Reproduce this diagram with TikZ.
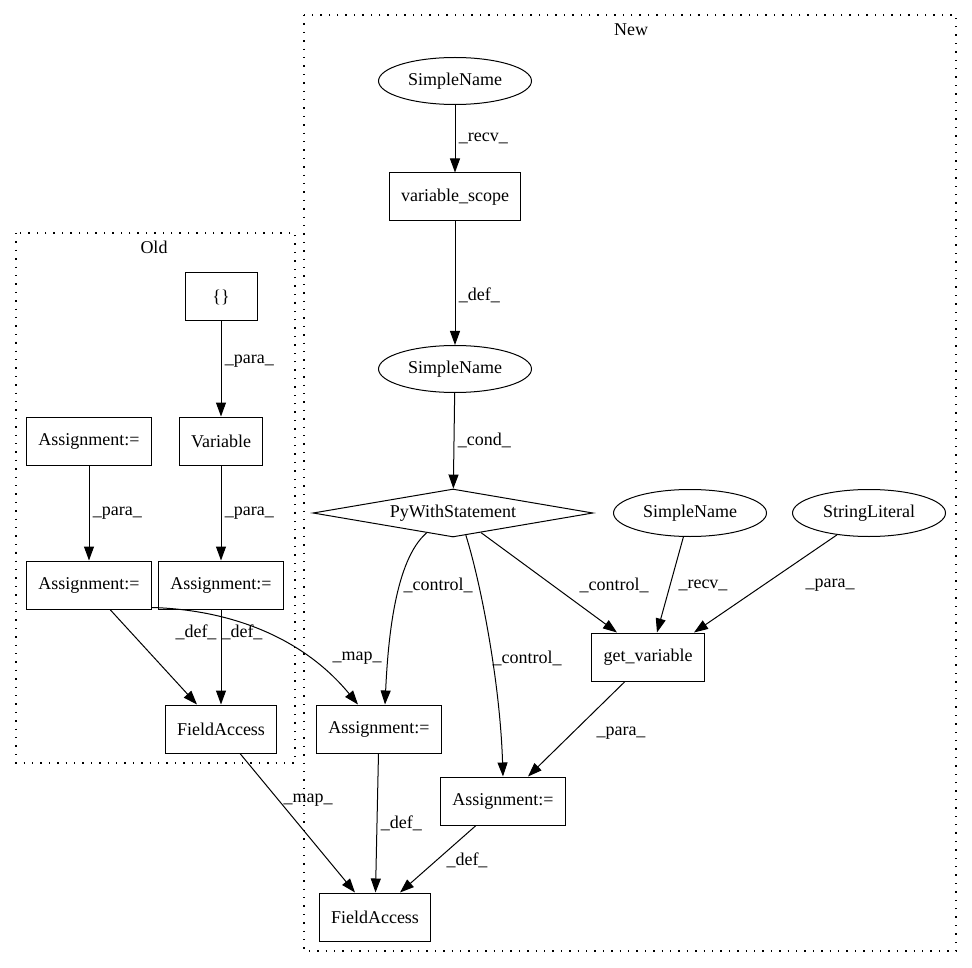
\documentclass[tikz,border=0pt]{standalone}
\usepackage{fontspec}
\setmainfont{Liberation Serif}
\usetikzlibrary{shapes.geometric,arrows.meta}

\tikzset{
  box/.style={draw, rectangle, minimum width=72pt, minimum height=48pt, inner xsep=12pt},
  ename/.style={draw, ellipse, minimum width=153pt, minimum height=47pt, label=center:#1},
  cond/.style={draw, diamond, aspect=6, inner sep=0pt, minimum width=280pt, minimum height=48pt},
  edge/.style={-{Triangle[length=14pt,width=10pt]}},
  cluster/.style={line width=1.4pt, dash pattern=on 1.4pt off 7pt},
}

\begin{document}
\begin{tikzpicture}[x=1pt, y=-1pt, line width=1pt,
  every node/.style={font=\fontsize{18}{21}\selectfont}]
\useasboundingbox (0,0) rectangle (972,968);

% clusters
\draw[cluster] (16,233) rectangle (295,763);
\node (oldlbl) at (154,247) {Old};
\draw[cluster] (304,15) rectangle (956,951);
\node (newlbl) at (631,30) {New};

% old
\node[box] (braces) at (221,297) {\{\}};
\node[box] (variable) at (221,441) {Variable};
\node[box] (oasgn1) at (89,441) {Assignment:=};
\node[box] (oasgn2) at (89,585) {Assignment:=};
\node[box] (oasgn3) at (221,585) {Assignment:=};
\node[box] (faold) at (221,729) {FieldAccess};

% new
\node[ename=SimpleName] (sn1) at (455,81) {};
\node[box] (vscope) at (455,197) {variable\_scope};
\node[ename=SimpleName] (sn2) at (455,369) {};
\node[cond] (pyws) at (453,513) {PyWithStatement};
\node[ename=SimpleName] (sn3) at (690,513) {};
\node[ename=StringLiteral] (strlit) at (869,513) {};
\node[box] (getvar) at (648,657) {get\_variable};
\node[box] (nasgn1) at (379,729) {Assignment:=};
\node[box] (nasgn2) at (503,801) {Assignment:=};
\node[box] (fanew) at (375,917) {FieldAccess};

% edges old
\draw[edge] (braces) -- node[pos=.42,right]{\_para\_} (variable);
\draw[edge] (oasgn1) -- node[right]{\_para\_} (oasgn2);
\draw[edge] (variable) -- node[right]{\_para\_} (oasgn3);
\draw[edge] ([xshift=21pt]oasgn2.south) -- ([xshift=-24pt]faold.north);
\node at (196,632) {\_def\_};
\draw[edge] (oasgn3) -- (faold);
\node at (242,632) {\_def\_};
\draw[edge] ([yshift=2pt]oasgn2.south east) .. controls (235,610) and (305,640) .. ([xshift=-21pt]nasgn1.north);
\node at (357,658) {\_map\_};
\draw[edge] ([xshift=19pt]faold.south) -- ([xshift=-20pt]fanew.north);
\node at (308,800) {\_map\_};

% edges new
\draw[edge] (sn1) -- node[right]{\_recv\_} (vscope);
\draw[edge] (vscope) -- node[pos=.6,right]{\_def\_} (sn2);
\draw[edge] (sn2) -- node[right]{\_cond\_} (pyws);
\draw[edge] (pyws.217) .. controls (395,560) and (388,640) .. ([xshift=6pt]nasgn1.north);
\node at (438,585) {\_control\_};
\draw[edge] (pyws.-60) .. controls (480,580) and (500,680) .. (nasgn2.north);
\node at (527,658) {\_control\_};
\draw[edge] (pyws.-35) -- ([xshift=-31pt]getvar.north);
\node at (614,585) {\_control\_};
\draw[edge] (sn3) -- ([xshift=9pt]getvar.north);
\node at (703,585) {\_recv\_};
\draw[edge] (strlit) -- ([xshift=46pt]getvar.north);
\node at (830,585) {\_para\_};
\draw[edge] ([xshift=-23pt]getvar.south) -- ([xshift=25pt]nasgn2.north);
\node at (621,733) {\_para\_};
\draw[edge] (nasgn1) -- node[right]{\_def\_} (fanew);
\draw[edge] ([xshift=-27pt]nasgn2.south) -- ([xshift=25pt]fanew.north);
\node at (467,860) {\_def\_};
\end{tikzpicture}
\end{document}
